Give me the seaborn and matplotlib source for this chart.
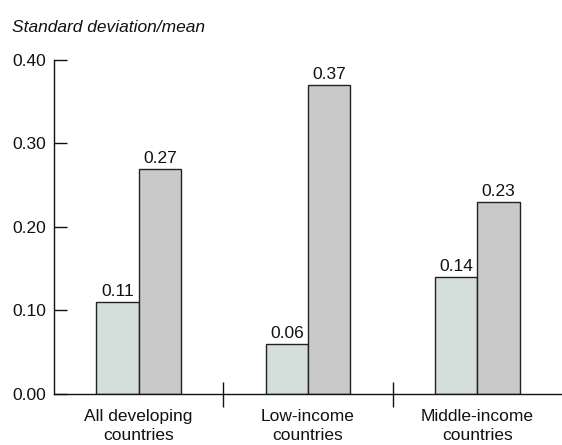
import pandas as pd
import numpy as np
import matplotlib
matplotlib.use('Agg')
import matplotlib.pyplot as plt
import seaborn as sns
from matplotlib.ticker import FixedLocator

groups = ['All developing\ncountries', 'Low-income\ncountries', 'Middle-income\ncountries']
series = ['A', 'B']
values_a = [0.11, 0.06, 0.14]
values_b = [0.27, 0.37, 0.23]
yticks = [0.00, 0.10, 0.20, 0.30, 0.40]

df = pd.DataFrame({
    'group': groups * 2,
    'series': ['A'] * 3 + ['B'] * 3,
    'value': values_a + values_b,
})

sns.set_style('white')
plt.rcParams['font.family'] = ['Liberation Sans', 'DejaVu Sans']

fig = plt.figure(figsize=(5.62, 4.45), dpi=100)
ax = fig.add_axes([0.096, 0.1146, 0.904, 0.7506])

sns.barplot(data=df, x='group', y='value', hue='series', order=groups,
            hue_order=series, palette=['#d4dfdb', '#c9c9c9'], width=0.5,
            edgecolor='#222222', linewidth=1.0, saturation=1, legend=False, ax=ax)

for c in ax.containers:
    ax.bar_label(c, fmt='%.2f', padding=2, fontsize=12.5, color='#111111')

ax.set_xlim(-0.5, 2.5)
ax.set_ylim(0, 0.40)
ax.set_yticks(yticks)
ax.set_yticklabels([f'{t:.2f}' for t in yticks])
ax.tick_params(axis='y', direction='in', length=9, width=1, pad=5.5, labelsize=12.5,
               left=True, color='#111111', labelcolor='#111111')
ax.tick_params(axis='x', which='major', length=0, pad=11, labelsize=12.5, labelcolor='#111111')
for lbl in ax.get_xticklabels():
    lbl.set_linespacing(1.3)
ax.xaxis.set_minor_locator(FixedLocator([0.5, 1.5]))
ax.tick_params(axis='x', which='minor', direction='inout', length=18, width=1, bottom=True, color='#111111')

for s in ['top', 'right']:
    ax.spines[s].set_visible(False)
for s in ['left', 'bottom']:
    ax.spines[s].set_color('#111111')
    ax.spines[s].set_linewidth(1.0)

ax.set_xlabel('')
ax.set_ylabel('')
fig.text(0.021, 0.928, 'Standard deviation/mean', fontsize=12.5, style='italic', color='#111111')

fig.savefig('out.png', dpi=100)
